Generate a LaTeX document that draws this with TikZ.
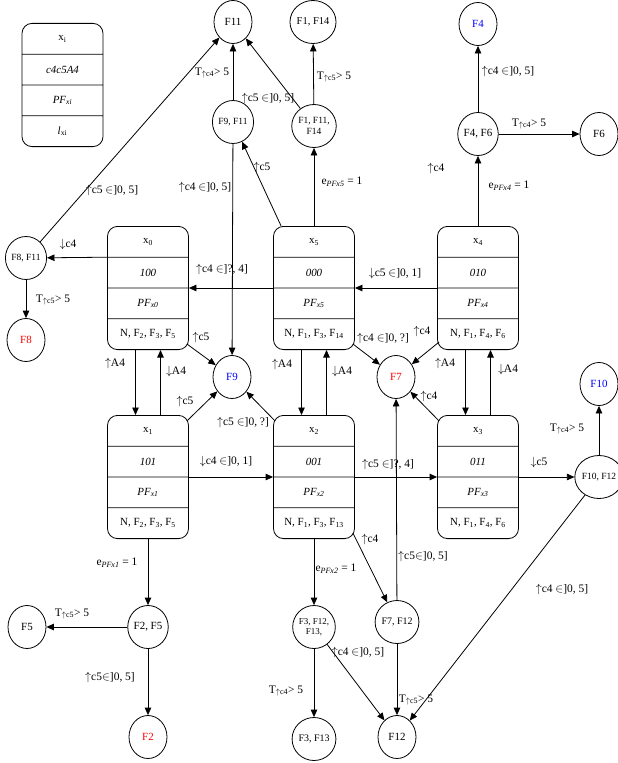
\documentclass[tikz,border=0pt]{standalone}
\usepackage{fontspec}
\setmainfont{Liberation Serif}
\usetikzlibrary{arrows.meta, shapes.geometric, shapes.multipart}

\newcommand{\riga}[1]{\parbox[c][30bp][c]{81bp}{\centering #1}}

\begin{document}
\begin{tikzpicture}[
    x=1bp, y=-1bp,
    >={Triangle[length=7.5bp, width=6.5bp]},
    msg/.style={->, line width=0.8bp},
    stato/.style={rectangle split, rectangle split parts=4, draw, line width=0.8bp,
      rounded corners=10bp, inner xsep=0pt, inner ysep=0pt, font=\fontsize{11}{13}\selectfont},
    evento/.style={ellipse, draw, line width=0.8bp, minimum width=38bp, minimum height=43bp,
      inner sep=0pt, align=center, font=\fontsize{11}{13}\selectfont},
    eventop/.style={evento, font=\fontsize{9.5}{11}\selectfont},
    etich/.style={font=\fontsize{11.5}{13}\selectfont, inner sep=1pt}
  ]
  \useasboundingbox (0,0) rectangle (618,763);

  % Legenda
  \node[stato] (leg) at (62.5,85) {\riga{x\textsubscript{i}}\nodepart{two}\riga{\textit{c4c5A4}}\nodepart{three}\riga{\textit{PF\textsubscript{xi}}}\nodepart{four}\riga{\textit{l}\textsubscript{xi}}};

  % Stati
  \node[stato] (x0) at (148,288) {\riga{x\textsubscript{0}}\nodepart{two}\riga{\textit{100}}\nodepart{three}\riga{\textit{PF\textsubscript{x0}}}\nodepart{four}\riga{N, F\textsubscript{2}, F\textsubscript{3}, F\textsubscript{5}}};
  \node[stato] (x5) at (314,288) {\riga{x\textsubscript{5}}\nodepart{two}\riga{\textit{000}}\nodepart{three}\riga{\textit{PF\textsubscript{x5}}}\nodepart{four}\riga{N, F\textsubscript{1}, F\textsubscript{3}, F\textsubscript{14}}};
  \node[stato] (x4) at (478,288) {\riga{x\textsubscript{4}}\nodepart{two}\riga{\textit{010}}\nodepart{three}\riga{\textit{PF\textsubscript{x4}}}\nodepart{four}\riga{N, F\textsubscript{1}, F\textsubscript{4}, F\textsubscript{6}}};
  \node[stato] (x1) at (148,477) {\riga{x\textsubscript{1}}\nodepart{two}\riga{\textit{101}}\nodepart{three}\riga{\textit{PF\textsubscript{x1}}}\nodepart{four}\riga{N, F\textsubscript{2}, F\textsubscript{3}, F\textsubscript{5}}};
  \node[stato] (x2) at (314,477) {\riga{x\textsubscript{2}}\nodepart{two}\riga{\textit{001}}\nodepart{three}\riga{\textit{PF\textsubscript{x2}}}\nodepart{four}\riga{N, F\textsubscript{1}, F\textsubscript{3}, F\textsubscript{13}}};
  \node[stato] (x3) at (478,477) {\riga{x\textsubscript{3}}\nodepart{two}\riga{\textit{011}}\nodepart{three}\riga{\textit{PF\textsubscript{x3}}}\nodepart{four}\riga{N, F\textsubscript{1}, F\textsubscript{4}, F\textsubscript{6}}};

  % Eventi
  \node[evento] (F11) at (233,22) {F11};
  \node[eventop, font=\fontsize{10.5}{12}\selectfont] (F1F14) at (313,22) {F1, F14};
  \node[evento, text=blue] (F4) at (478,24) {F4};
  \node[eventop] (F9F11) at (233,122) {F9, F11};
  \node[eventop] (F1F11F14) at (314,126) {F1, F11,\\F14};
  \node[evento] (F4F6) at (478,134) {F4, F6};
  \node[evento] (F6) at (599,134) {F6};
  \node[eventop] (F8F11) at (26,258) {F8, F11};
  \node[evento, text=red] (F8) at (26,340) {F8};
  \node[evento, text=blue] (F9) at (232,377) {F9};
  \node[evento, text=red] (F7) at (396,377) {F7};
  \node[evento, text=blue] (F10) at (599,384) {F10};
  \node[eventop] (F10F12) at (599,477) {F10, F12};
  \node[evento] (F5) at (27,627) {F5};
  \node[evento] (F2F5) at (148,627) {F2, F5};
  \node[evento, text=red] (F2) at (148,737) {F2};
  \node[eventop, font=\fontsize{9}{10.5}\selectfont] (F3F12F13) at (314,627) {F3, F12,\\F13,};
  \node[eventop, font=\fontsize{10}{11}\selectfont] (F7F12) at (397,622) {F7, F12};
  \node[eventop, font=\fontsize{10}{11}\selectfont] (F3F13) at (314,739) {F3, F13};
  \node[evento] (F12) at (397,737) {F12};

  % Frecce in alto
  \draw[msg] (F9F11) -- (F11) node[etich] at (212,73) {T\textsubscript{$\uparrow$c4}> 5};
  \draw[msg] (F1F11F14) -- (F11) node[etich] at (268,99) {$\uparrow$c5 $\in$]0, 5]};
  \draw[msg] (F1F11F14) -- (F1F14) node[etich] at (334,77) {T\textsubscript{$\uparrow$c5}> 5};
  \draw[msg] (F9F11) -- (F9) node[etich] at (205,188) {$\uparrow$c4 $\in$]0, 5]};
  \draw[msg] ([xshift=8bp]x5.north west) -- (F9F11) node[etich] at (262,168) {$\uparrow$c5};
  \draw[msg] (x5.north) -- (F1F11F14) node[etich] at (342,182) {e\textsubscript{\textit{PFx5}} = 1};
  \draw[msg] (F4F6) -- (F4) node[etich] at (508,72) {$\uparrow$c4 $\in$]0, 5]};
  \draw[msg] (F4F6) -- (F6) node[etich] at (529,124) {T\textsubscript{$\uparrow$c4}> 5};
  \draw[msg] (x4.north) -- (F4F6) node[etich] at (509,186) {e\textsubscript{\textit{PFx4}} = 1};
  \node[etich] (c4libero) at (436,169) {$\uparrow$c4};

  % Frecce a sinistra
  \draw[msg] (F8F11) -- (F11) node[etich] at (112,191) {$\uparrow$c5 $\in$]0, 5]};
  \draw[msg] (x0.text split west) -- (F8F11) node[etich] at (68,245) {$\downarrow$c4};
  \draw[msg] (F8F11) -- (F8) node[etich] at (53,300) {T\textsubscript{$\uparrow$c5}> 5};

  % Transizioni tra stati
  \draw[msg] (x5.two split west) -- (x0.two split east) node[etich] at (222,270) {$\uparrow$c4 $\in$]?, 4]};
  \draw[msg] (x4.two split west) -- (x5.two split east) node[etich] at (395,274) {$\downarrow$c5 $\in$]0, 1]};
  \draw[msg] (x1.two split east) -- (x2.two split west) node[etich] at (226,462) {$\downarrow$c4 $\in$]0, 1]};
  \draw[msg] (x2.two split east) -- (x3.two split west) node[etich] at (388,465) {$\uparrow$c5 $\in$]?, 4]};
  \draw[msg] (x3.two split east) -- (F10F12) node[etich] at (539,463) {$\downarrow$c5};
  \draw[msg] ([xshift=-12.5bp]x0.south) -- ([xshift=-12.5bp]x1.north) node[etich] at (115,364) {$\uparrow$A4};
  \draw[msg] ([xshift=12.5bp]x1.north) -- ([xshift=12.5bp]x0.south) node[etich] at (176,372) {$\downarrow$A4};
  \draw[msg] ([xshift=-12.5bp]x5.south) -- ([xshift=-12.5bp]x2.north) node[etich] at (282,365) {$\uparrow$A4};
  \draw[msg] ([xshift=12.5bp]x2.north) -- ([xshift=12.5bp]x5.south) node[etich] at (342,372) {$\downarrow$A4};
  \draw[msg] ([xshift=-12.5bp]x4.south) -- ([xshift=-12.5bp]x3.north) node[etich] at (445,364) {$\uparrow$A4};
  \draw[msg] ([xshift=12.5bp]x3.north) -- ([xshift=12.5bp]x4.south) node[etich] at (508,370) {$\downarrow$A4};

  % Frecce verso F9 e F7
  \draw[msg] ([shift={(-2bp,6bp)}]x0.south east) -- (F9) node[etich] at (201,338) {$\uparrow$c5};
  \draw[msg] ([shift={(-2bp,-6bp)}]x1.north east) -- (F9) node[etich] at (185,402) {$\uparrow$c5};
  \draw[msg] ([shift={(2bp,-6bp)}]x2.north west) -- (F9) node[etich] at (243,423) {$\uparrow$c5 $\in$]0, ?]};
  \draw[msg] ([shift={(-2bp,6bp)}]x5.south east) -- (F7) node[etich] at (383,339) {$\uparrow$c4 $\in$]0, ?]};
  \draw[msg] ([shift={(2bp,8bp)}]x4.south west) -- (F7) node[etich] at (422,332) {$\uparrow$c4};
  \draw[msg] ([shift={(2bp,-6bp)}]x3.north west) -- (F7) node[etich] at (429,397) {$\uparrow$c4};
  \draw[msg] (F7F12) -- (F7) node[etich] at (423,557) {$\uparrow$c5$\in$]0, 5]};
  \draw[msg] (F10F12) -- (F10) node[etich] at (567,429) {T\textsubscript{$\uparrow$c4}> 5};

  % Frecce in basso
  \draw[msg] (x1.south) -- (F2F5) node[etich] at (117,563) {e\textsubscript{\textit{PFx1}} = 1};
  \draw[msg] (F2F5) -- (F5) node[etich] at (72,614) {T\textsubscript{$\uparrow$c5}> 5};
  \draw[msg] (F2F5) -- (F2) node[etich] at (110,678) {$\uparrow$c5$\in$]0, 5]};
  \draw[msg] (x2.south) -- (F3F12F13) node[etich] at (336,569) {e\textsubscript{\textit{PFx2}} = 1};
  \draw[msg] ([shift={(-2bp,6bp)}]x2.south east) -- (F7F12) node[etich] at (370,540) {$\uparrow$c4};
  \draw[msg] (F10F12) -- (F12) node[etich] at (562,590) {$\uparrow$c4 $\in$]0, 5]};
  \draw[msg] (F3F12F13) -- (F12) node[etich] at (358,653) {$\uparrow$c4 $\in$]0, 5]};
  \draw[msg] (F3F12F13) -- (F3F13) node[etich] at (286,691) {T\textsubscript{$\uparrow$c4}> 5};
  \draw[msg] (F7F12) -- (F12) node[etich] at (416,700) {T\textsubscript{$\uparrow$c5}> 5};

\end{tikzpicture}
\end{document}
